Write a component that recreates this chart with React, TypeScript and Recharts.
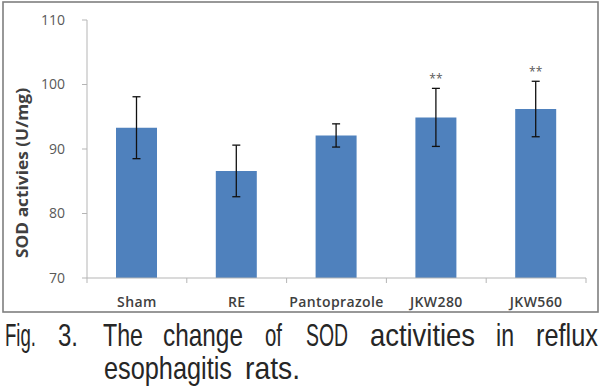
import React from 'react';
import { BarChart, Bar, XAxis, YAxis, ErrorBar, LabelList } from 'recharts';

// SOD activity per treatment group (mean ± SD, U/mg)
const groups = ['Sham', 'RE', 'Pantoprazole', 'JKW280', 'JKW560'];
const sodMeans = [93.3, 86.6, 92.1, 94.9, 96.2];
const sodErrors = [4.8, 4.0, 1.8, 4.5, 4.3];
const significance = ['', '', '', '**', '**'];
const yTicks = [70, 80, 90, 100, 110];

const captionFirstLine = ['Fig.', '3.', 'The', 'change', 'of', 'SOD', 'activities', 'in', 'reflux'];
const captionSecondLine = ['esophagitis', 'rats.'];

const rows = groups.map((name, i) => ({
  name,
  sod: sodMeans[i],
  err: sodErrors[i],
  sig: significance[i],
}));

const W = 606;
const H = 390;
const AXIS_GRAY = '#b5b5b5';
const BAR_BLUE = '#4f81bd';
const CHART_FONT = '"Open Sans", "Noto Sans", sans-serif';
const CAPTION_FONT = '"Liberation Sans", Arial, sans-serif';

// caption layout [left, width]: justified first line, hanging indent on the second
const line1Layout = [
  [5, 31], [58, 20], [103, 40], [163, 80], [265, 17], [306, 42], [370, 105], [496, 18], [536, 62],
];
const line2Layout = [[104, 128], [245, 55]];

// Category tick: label plus tick marks on the group boundaries
const GroupTick = (props: any) => {
  const { x, y, payload, index, width, visibleTicksCount } = props;
  const half = width / visibleTicksCount / 2;
  const axisY = y - 19;
  const isLast = index === visibleTicksCount - 1;
  return (
    <g>
      <line x1={x - half} x2={x - half} y1={axisY} y2={axisY + 5} stroke={AXIS_GRAY} />
      {isLast && <line x1={x + half} x2={x + half} y1={axisY} y2={axisY + 5} stroke={AXIS_GRAY} />}
      <text
        x={x}
        y={y + 10}
        textAnchor="middle"
        fontFamily={CHART_FONT}
        fontSize={14}
        fontWeight={600}
        letterSpacing={0.4}
        fill="#404040"
      >
        {payload.value}
      </text>
    </g>
  );
};

// Significance marks placed just above each error bar's upper cap
const SigMark = (props: any) => {
  const { index, value } = props;
  const vb = props.viewBox || props;
  const { x, y, width, height } = vb;
  if (!value) return null;
  const pxPerUnit = height / (sodMeans[index] - yTicks[0]);
  const errTop = y - sodErrors[index] * pxPerUnit;
  return (
    <text
      x={x + width / 2}
      y={errTop - 5}
      textAnchor="middle"
      fontFamily={CHART_FONT}
      fontSize={12}
      fill="#595959"
    >
      {value}
    </text>
  );
};

const YTitle = () => (
  <text
    transform="translate(22,173) rotate(-90)"
    textAnchor="middle"
    dominantBaseline="central"
    fontFamily={CHART_FONT}
    fontSize={16}
    fontWeight={700}
    fill="#404040"
    textLength={170}
    lengthAdjust="spacingAndGlyphs"
  >
    SOD activies (U/mg)
  </text>
);

// Condensed caption words: smaller type stretched vertically
const CaptionLine = ({ words, layout, baseline }: { words: string[]; layout: number[][]; baseline: number }) => (
  <g>
    {words.map((word, i) => (
      <text
        key={word}
        transform={`translate(${layout[i][0]},${baseline}) scale(1,1.24)`}
        textLength={layout[i][1]}
        lengthAdjust="spacingAndGlyphs"
        fontFamily={CAPTION_FONT}
        fontSize={24.6}
        fill="#262626"
      >
        {word}
      </text>
    ))}
  </g>
);

export default function App() {
  return (
    <div style={{ position: 'absolute', left: 0, top: 0, width: W, height: H, background: '#fff' }}>
      <svg width={W} height={H} style={{ position: 'absolute', left: 0, top: 0 }}>
        <rect x={3} y={2} width={595} height={310} fill="#fff" stroke="#7f7f7f" strokeWidth={1.6} />
        <CaptionLine words={captionFirstLine} layout={line1Layout} baseline={346} />
        <CaptionLine words={captionSecondLine} layout={line2Layout} baseline={379} />
      </svg>
      <div style={{ position: 'absolute', left: 0, top: 0 }}>
        <BarChart width={W} height={H} data={rows} margin={{ top: 20, right: 20, bottom: 82, left: 0 }}>
          <XAxis
            dataKey="name"
            height={30}
            interval={0}
            tickLine={false}
            axisLine={{ stroke: AXIS_GRAY }}
            tickMargin={13}
            tick={<GroupTick />}
          />
          <YAxis
            domain={[70, 110]}
            ticks={yTicks}
            width={87}
            allowDataOverflow
            axisLine={{ stroke: AXIS_GRAY }}
            tickLine={{ stroke: AXIS_GRAY }}
            tickSize={5}
            tickMargin={17}
            tick={{ fontFamily: CHART_FONT, fontSize: 14, fill: '#595959' }}
            label={{ content: <YTitle /> }}
          />
          <Bar dataKey="sod" fill={BAR_BLUE} barSize={41} isAnimationActive={false}>
            <ErrorBar dataKey="err" width={4} stroke="#111" strokeWidth={1.3} />
            <LabelList dataKey="sig" content={<SigMark />} />
          </Bar>
        </BarChart>
      </div>
    </div>
  );
}
